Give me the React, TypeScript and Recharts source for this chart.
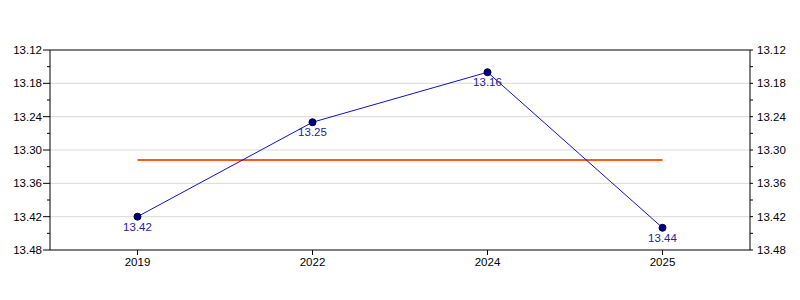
import { ComposedChart, Line, XAxis, YAxis, CartesianGrid, ReferenceLine, LabelList } from 'recharts'

const years = ['2019', '2022', '2024', '2025']
const values = [13.42, 13.25, 13.16, 13.44]
const average = [13.318, 13.318, 13.318, 13.318]
const yTicks = [13.12, 13.15, 13.18, 13.21, 13.24, 13.27, 13.3, 13.33, 13.36, 13.39, 13.42, 13.45, 13.48]
const majorTicks = [13.12, 13.18, 13.24, 13.3, 13.36, 13.42, 13.48]
const gridTicks = [13.18, 13.24, 13.3, 13.36, 13.42]

const data = years.map((year, i) => ({ year, value: values[i], avg: average[i] }))

const FONT = '"Liberation Sans", Arial, sans-serif'

const isMajor = (v: number) => majorTicks.some((m) => Math.abs(m - v) < 1e-6)

function renderLeftTick({ x, y, payload }: any) {
  const major = isMajor(payload.value)
  return (
    <g key={'l' + payload.value}>
      <line x1={x} x2={x - (major ? 7 : 3)} y1={y} y2={y} stroke="#000" />
      {major && (
        <text x={x - 8} y={y} dy={4} textAnchor="end" fontSize={11.5} fontFamily={FONT} fill="#000">
          {payload.value.toFixed(2)}
        </text>
      )}
    </g>
  )
}

function renderRightTick({ x, y, payload }: any) {
  const major = isMajor(payload.value)
  return (
    <g key={'r' + payload.value}>
      <line x1={x} x2={x + 3} y1={y} y2={y} stroke="#000" />
      {major && (
        <text x={x + 7} y={y} dy={4} textAnchor="start" fontSize={11.5} fontFamily={FONT} fill="#000">
          {payload.value.toFixed(2)}
        </text>
      )}
    </g>
  )
}

export default function App() {
  return (
    <div style={{ position: 'absolute', left: 0, top: 0, width: 800, height: 300, background: '#fff' }}>
      <ComposedChart width={800} height={300} data={data} margin={{ top: 50, right: 0, bottom: 20, left: 0 }}>
        <CartesianGrid yAxisId="left" vertical={false} horizontalValues={gridTicks} stroke="#d9d9d9" />
        <XAxis
          dataKey="year"
          scale="band"
          height={30}
          stroke="#000"
          tickSize={5}
          tickMargin={3}
          tick={{ fontSize: 11.5, fontFamily: FONT, fill: '#000' }}
        />
        <YAxis
          yAxisId="left"
          orientation="left"
          width={50}
          reversed
          domain={[13.12, 13.48]}
          ticks={yTicks}
          interval={0}
          tickSize={0}
          tickMargin={0}
          stroke="#000"
          tick={renderLeftTick}
        />
        <YAxis
          yAxisId="right"
          orientation="right"
          width={50}
          reversed
          domain={[13.12, 13.48]}
          ticks={yTicks}
          interval={0}
          tickSize={0}
          tickMargin={0}
          stroke="#000"
          tick={renderRightTick}
        />
        <ReferenceLine yAxisId="left" y={13.12} stroke="#000" />
        <Line
          yAxisId="right"
          dataKey="avg"
          stroke="#ff5a14"
          strokeWidth={2}
          dot={false}
          isAnimationActive={false}
        />
        <Line
          yAxisId="left"
          dataKey="value"
          stroke="#1010c8"
          strokeWidth={1}
          dot={{ r: 3.5, fill: '#000080', stroke: '#000033', strokeWidth: 1 }}
          isAnimationActive={false}
        >
          <LabelList
            dataKey="value"
            position="bottom"
            offset={6}
            formatter={(v: any) => Number(v).toFixed(2)}
            style={{ fontSize: 11.5, fontFamily: FONT, fill: '#22229a' }}
          />
        </Line>
      </ComposedChart>
    </div>
  )
}
